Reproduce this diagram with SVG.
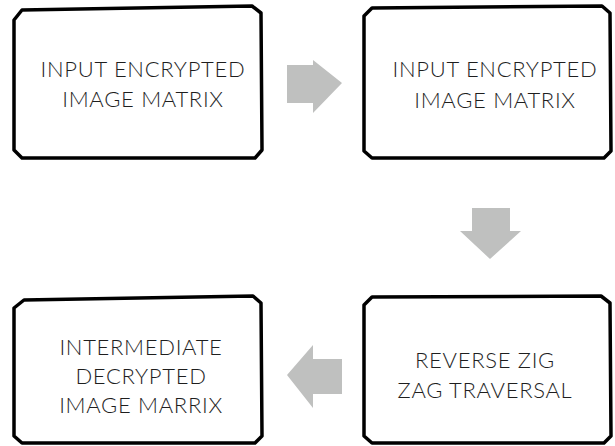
<svg xmlns="http://www.w3.org/2000/svg" width="615" height="446" viewBox="0 0 615 446">
<style>
.box{fill:#fff;stroke:#000;stroke-width:3.5;stroke-linejoin:round}
.arrow{fill:#bfc0bf}
.lbl{font-family:Lato,"Liberation Sans",sans-serif;font-weight:300;font-size:22px;letter-spacing:0.7px;fill:#1e1e1e;text-anchor:middle}
</style>
<rect width="615" height="446" fill="#fff"/>
<g id="connectors">
<polygon class="arrow" points="287,65 313,65 313,60 342,83 313,113 313,103 287,103"/>
<polygon class="arrow" points="472,208 510,208 510,231 521,231 490,259 460,231 472,231"/>
<polygon class="arrow" points="342,359 313,359 313,345 287,375 313,408 313,394 342,394"/>
</g>
<g id="node1">
<path class="box" d="M22,10 L252,6 L261,13 L262,150 L255,158 L22,158 L14,150 L14,20 Z"/>
<text class="lbl" x="143" y="77">INPUT ENCRYPTED</text>
<text class="lbl" x="143" y="107">IMAGE MATRIX</text>
</g>
<g id="node2">
<path class="box" d="M372,8 L602,6 L610,13 L611,151 L604,158 L372,158 L364,151 L364,16 Z"/>
<text class="lbl" x="495" y="77">INPUT ENCRYPTED</text>
<text class="lbl" x="495" y="108">IMAGE MATRIX</text>
</g>
<g id="node3">
<path class="box" d="M24,300 L253,296 L261,303 L262,436 L255,443 L22,443 L14,436 L14,308 Z"/>
<text class="lbl" x="141" y="355">INTERMEDIATE</text>
<text class="lbl" x="141" y="384">DECRYPTED</text>
<text class="lbl" x="141" y="413">IMAGE MARRIX</text>
</g>
<g id="node4">
<path class="box" d="M372,297 L601,296 L610,303 L611,436 L604,443 L372,443 L364,436 L364,305 Z"/>
<text class="lbl" x="485" y="368">REVERSE ZIG</text>
<text class="lbl" x="485" y="398">ZAG TRAVERSAL</text>
</g>
</svg>
